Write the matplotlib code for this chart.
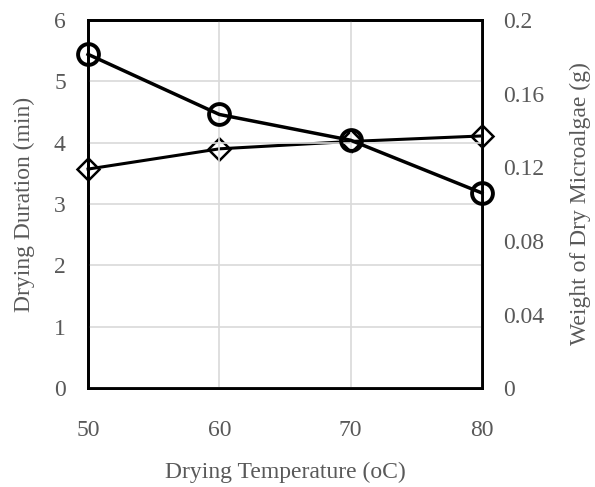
import matplotlib.pyplot as plt

# data
temperature = [50, 60, 70, 80]
duration_min = [5.44, 4.46, 4.04, 3.18]
weight_g = [0.119, 0.130, 0.134, 0.137]

plt.rcParams['font.family'] = ['Liberation Serif', 'DejaVu Serif']

fig = plt.figure(figsize=(5.95, 4.87), dpi=100)
ax = fig.add_axes([0.148, 0.203, 0.662, 0.756])
ax2 = ax.twinx()

grey = '#595959'
ax.plot(temperature, duration_min, color='black', linewidth=2.5,
        marker='o', markersize=15, markerfacecolor='none',
        markeredgewidth=2.8, markeredgecolor='black', zorder=4, clip_on=False)
ax2.plot(temperature, weight_g, color='black', linewidth=2.2,
         marker='D', markersize=11, markerfacecolor='none',
         markeredgewidth=1.8, markeredgecolor='black', clip_on=False)

ax.set_zorder(ax2.get_zorder() + 1)
ax.patch.set_visible(False)

ax.set_xlim(50, 80)
ax.set_ylim(0, 6)
ax2.set_ylim(0, 0.2)
ax.set_xticks([50, 60, 70, 80])
ax.set_yticks(range(0, 7))
ax2.set_yticks([0, 0.04, 0.08, 0.12, 0.16, 0.2])
ax2.set_yticklabels(['0', '0.04', '0.08', '0.12', '0.16', '0.2'])

ax.grid(True, color='#d9d9d9', linewidth=1.2)
ax.set_axisbelow(True)

for a in (ax, ax2):
    a.tick_params(length=0, labelsize=17, labelcolor=grey)
    for s in a.spines.values():
        s.set_color('black')
        s.set_linewidth(2)
ax.tick_params(axis='x', pad=23)
ax.tick_params(axis='y', pad=16)
ax2.tick_params(axis='y', pad=15)

ax.set_xlabel('Drying Temperature (oC)', fontsize=17, color=grey, labelpad=15)
ax.set_ylabel('Drying Duration (min)', fontsize=17, color=grey, labelpad=14)
ax2.set_ylabel('Weight of Dry Microalgae (g)', fontsize=17, color=grey, labelpad=19)

fig.savefig('out.png', dpi=100)
